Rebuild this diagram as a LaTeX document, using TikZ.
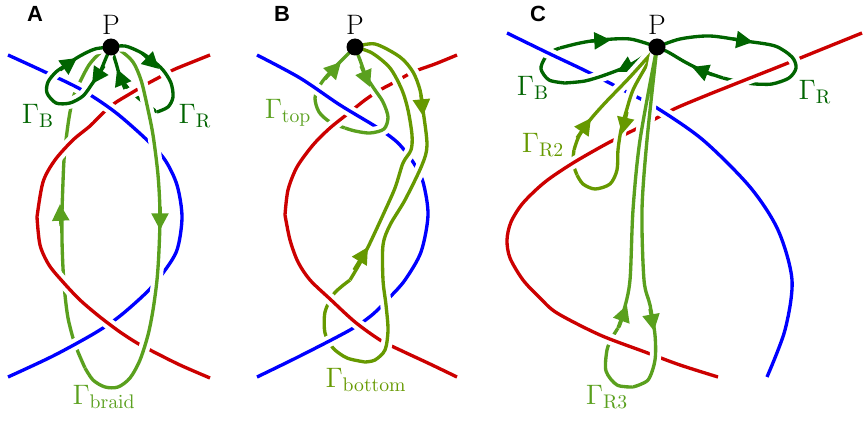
\RequirePackage{fix-cm}
\documentclass[tikz,border=0pt]{standalone}
\usepackage[no-math]{fontspec}
\usetikzlibrary{arrows.meta,positioning}
\newfontfamily\panelfont{Liberation Sans}
\definecolor{knotred}{RGB}{204,0,0}
\definecolor{knotblue}{RGB}{0,0,255}
\definecolor{darkgreen}{RGB}{0,100,0}
\definecolor{lightgreen}{RGB}{90,160,30}
\definecolor{olivegreen}{RGB}{102,153,0}

\begin{document}
\begin{tikzpicture}[
    x=0.02cm, y=-0.02cm,
    strand/.style={line width=1.9pt, preaction={draw=white, line width=6.5pt}},
    tipseg/.style={line width=1.9pt, -{Triangle[length=9.5pt, width=9.5pt]}},
    pdot/.style={circle, fill=black, inner sep=0pt, minimum size=0.34cm},
    ptext/.style={inner sep=0pt, font=\fontsize{16}{18}\selectfont},
    glabel/.style={inner sep=0pt, font=\fontsize{16}{18}\selectfont},
    panel/.style={inner sep=0pt, font=\panelfont\bfseries\fontsize{12.5}{14}\selectfont}
]
    \useasboundingbox (0,0) rectangle (863,422);

    % ---------- A ----------
    \coordinate (PA) at (111,47);
    % left half of the braid (under everything)
    \draw[strand, lightgreen] plot[smooth] coordinates {(85,368) (78,352) (73,338) (68,318) (65,295) (63,268) (62,240) (62,213) (63,182) (64,160) (66,140) (69,118) (73,98) (79,84) (89,65) (100,53) (PA)};
    \draw[tipseg, lightgreen] (61,226) -- (60,204);
    % hidden part of Gamma_R
    \draw[strand, darkgreen] plot[smooth] coordinates {(157,112) (146,104) (136,96) (127,87) (120,76) (116,63) (PA)};
    \draw[tipseg, darkgreen] (125,89) -- (117,69);
    \draw[strand, knotred] plot[smooth] coordinates {(210,55) (190,63) (173,70) (158,78) (145,85) (128,95) (115,103) (103,113) (90,126) (73,140) (55,160) (43,182) (37,217)};
    \draw[strand, knotblue] plot[smooth] coordinates {(8,55) (45,72) (82,90) (115,112) (147,140) (165,160) (177,185) (182,217) (177,250) (163,273) (147,292) (120,316) (95,333) (53,356) (8,377)};
    \draw[strand, knotred] plot[smooth] coordinates {(37,217) (40,245) (49,265) (63,282) (80,300) (100,317) (120,332) (137,343) (152,351) (180,365) (210,378)};
    % Gamma_B
    \draw[strand, darkgreen] plot[smooth] coordinates {(PA) (106,58) (100,72) (92,84) (83,96) (70,103) (56,103) (47,93) (48,82) (56,72) (66,65) (80,56) (95,49) (PA)};
    \draw[tipseg, darkgreen] (104,66) -- (92,84);
    \draw[tipseg, darkgreen] (60,70) -- (77,58);
    % right half of the braid
    \draw[strand, lightgreen] plot[smooth] coordinates {(PA) (121,51) (133,62) (141,80) (147,105) (153,135) (158,175) (160,213) (159,250) (157,280) (153,310) (148,335) (140,360) (130,378) (118,387) (105,387) (93,380) (85,368)};
    \draw[tipseg, lightgreen] (160,207) -- (160,230);
    % Gamma_R
    \draw[strand, darkgreen] plot[smooth] coordinates {(PA) (125,46) (140,52) (152,60) (163,70) (171,83) (173,97) (168,107) (157,112)};
    \draw[tipseg, darkgreen] (142,53) -- (159,69);

    \node[glabel, darkgreen] (gBA) at (38,116) {$\Gamma_{\mathrm{B}}$};
    \node[glabel, darkgreen] (gRA) at (195,116) {$\Gamma_{\mathrm{R}}$};
    \node[glabel, lightgreen] (gbraid) at (104,397) {$\Gamma_{\mathrm{braid}}$};
    \node[pdot] (PAdot) at (PA) {};
    \node[ptext, above=2pt of PAdot] (PAtext) {P};
    \node[panel] (labA) at (35,14) {A};

    % ---------- B ----------
    \coordinate (PB) at (355,47);
    % left leg of Gamma_top
    \draw[strand, lightgreen] plot[smooth] coordinates {(345,128) (330,122) (319,112) (315,98) (320,85) (326,77) (333,69) (341,61) (PB)};
    \draw[tipseg, lightgreen] (325,79) -- (341,62);
    % lower left bit of Gamma_bottom
    \draw[strand, olivegreen] plot[smooth] coordinates {(365,362) (347,358) (333,348) (325,333) (325,312) (333,295) (341,287) (350,280)};
    \draw[strand, knotred] plot[smooth] coordinates {(457,55) (435,64) (413,72) (395,82) (380,90) (365,100) (350,112) (330,128) (313,145) (297,167) (288,190) (285,215)};
    \draw[strand, knotblue] plot[smooth] coordinates {(257,55) (300,78) (340,105) (378,128) (398,143) (413,162) (423,182) (428,215) (421,252) (405,280) (390,297) (372,315) (350,330) (300,356) (257,377)};
    \draw[strand, knotred] plot[smooth] coordinates {(285,215) (290,240) (298,262) (310,280) (330,299) (355,322) (380,340) (400,350) (430,364) (457,377)};
    % right part of Gamma_top
    \draw[strand, lightgreen] plot[smooth] coordinates {(PB) (360,60) (366,76) (375,90) (383,102) (388,117) (384,129) (370,133) (355,131) (345,128)};
    \draw[tipseg, lightgreen] (361,66) -- (370,87);
    % Gamma_bottom
    \draw[strand, olivegreen] plot[smooth] coordinates {(350,280) (360,263) (370,243) (383,215) (395,188) (403,163) (411,150) (412,135) (408,110) (402,90) (390,68) (372,53) (PB)}
        plot[smooth] coordinates {(PB) (375,44) (400,57) (413,72) (420,90) (423,110) (427,145) (422,165) (405,200) (390,225) (383,245) (383,280) (386,305) (388,330) (385,350) (375,360) (365,362)};
    \draw[tipseg, olivegreen] (421,95) -- (423,116);
    \draw[tipseg, olivegreen] (354,270) -- (368,247);

    \node[glabel, lightgreen] (gtop) at (288,113) {$\Gamma_{\mathrm{top}}$};
    \node[glabel, olivegreen] (gbottom) at (366,380) {$\Gamma_{\mathrm{bottom}}$};
    \node[pdot] (PBdot) at (PB) {};
    \node[ptext, above=2pt of PBdot] (PBtext) {P};
    \node[panel] (labB) at (282,14) {B};

    % ---------- C ----------
    \coordinate (PC) at (657,47);
    % bits that pass under the red or blue line
    \draw[strand, darkgreen] plot[smooth] coordinates {(755,84) (740,82) (723,78)};
    \draw[strand, olivegreen] plot[smooth] coordinates {(577,175) (573,163) (574,150)};
    \draw[strand, lightgreen] plot[smooth] coordinates {(633,387) (617,385) (606,371) (607,350) (612,338) (618,328)};
    \draw[strand, darkgreen] plot[smooth] coordinates {(565,83) (549,80) (541,69) (545,58) (553,51) (560,48)};
    \draw[strand, knotred] plot[smooth] coordinates {(862,33) (820,50) (783,65) (740,82) (700,98) (672,110) (640,127) (608,143) (573,163) (545,182) (523,203) (511,222) (507,240) (510,258) (523,280) (540,298) (557,313) (600,335) (645,352) (680,365) (718,377)};
    \draw[strand, knotblue] plot[smooth] coordinates {(507,33) (548,53) (588,72) (625,91) (657,108) (703,140) (750,187) (778,230) (792,280) (785,330) (767,377)};
    % Gamma_B
    \draw[strand, darkgreen] plot[smooth] coordinates {(560,48) (580,43) (600,40) (630,39) (PC)}
        plot[smooth] coordinates {(PC) (643,57) (628,66) (605,75) (585,81) (565,83)};
    \draw[tipseg, darkgreen] (591,41) -- (611,40);
    \draw[tipseg, darkgreen] (638,61) -- (617,72);
    % Gamma_R
    \draw[strand, darkgreen] plot[smooth] coordinates {(723,78) (703,71) (685,62) (668,52) (PC)}
        plot[smooth] coordinates {(PC) (680,39) (710,36) (745,41) (775,46) (792,57) (796,68) (789,78) (772,84) (755,84)};
    \draw[tipseg, darkgreen] (713,75) -- (692,67);
    \draw[tipseg, darkgreen] (733,39) -- (753,42);
    % Gamma_R2
    \draw[strand, olivegreen] plot[smooth] coordinates {(574,150) (579,136) (590,120) (605,103) (630,77) (PC)}
        plot[smooth] coordinates {(PC) (645,68) (633,90) (626,112) (621,130) (618,150) (617,170) (610,184) (595,189) (583,184) (577,175)};
    \draw[tipseg, olivegreen] (577,138) -- (591,118);
    \draw[tipseg, olivegreen] (627,112) -- (622,134);
    % Gamma_R3
    \draw[strand, lightgreen] plot[smooth] coordinates {(618,328) (624,310) (630,280) (633,210) (640,140) (PC)}
        plot[smooth] coordinates {(PC) (647,140) (642,210) (644,280) (650,305) (655,335) (655,360) (648,380) (633,387)};
    \draw[tipseg, lightgreen] (619,327) -- (627,305);
    \draw[tipseg, lightgreen] (650,309) -- (654,331);

    \node[glabel, darkgreen] (gBC) at (533,88) {$\Gamma_{\mathrm{B}}$};
    \node[glabel, darkgreen] (gRC) at (815,92) {$\Gamma_{\mathrm{R}}$};
    \node[glabel, olivegreen] (gRtwo) at (543,145) {$\Gamma_{\mathrm{R2}}$};
    \node[glabel, lightgreen] (gRthree) at (607,397) {$\Gamma_{\mathrm{R3}}$};
    \node[pdot] (PCdot) at (PC) {};
    \node[ptext, above=2pt of PCdot] (PCtext) {P};
    \node[panel] (labC) at (538,14) {C};
\end{tikzpicture}
\end{document}
